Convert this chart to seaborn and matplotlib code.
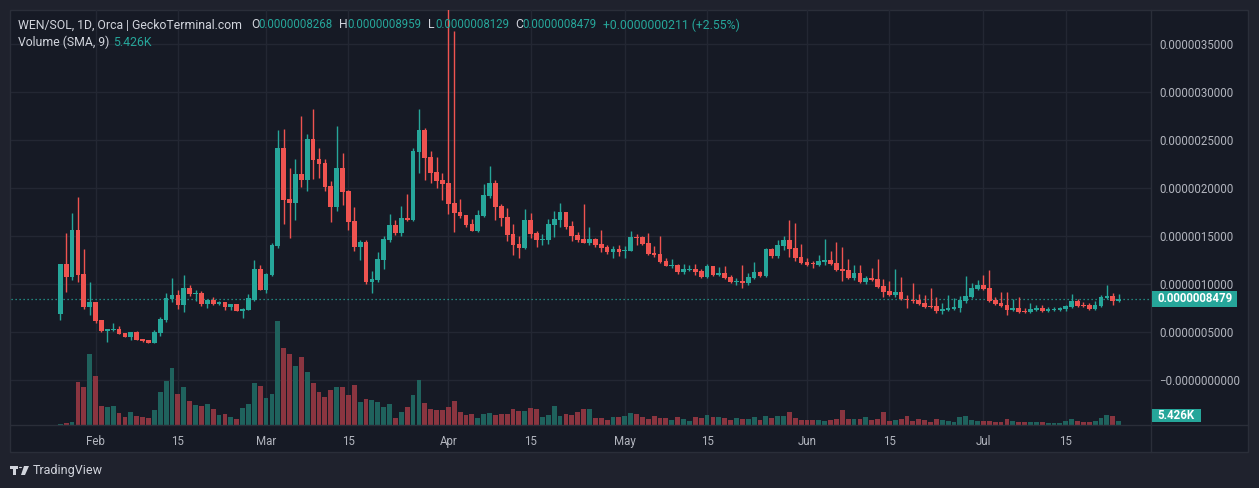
import numpy as np
import pandas as pd
import matplotlib
matplotlib.use("Agg")
import matplotlib.pyplot as plt
from matplotlib.patches import Rectangle, Polygon, Circle
from matplotlib.lines import Line2D
import seaborn as sns

# ---------------- data (prices in units of 1e-7 SOL, volume in K) ----------------
start_date = "2024-01-26"
open_e7 = [
    6.88, 12.08, 10.73, 15.63, 11.04, 7.60, 8.13, 6.25, 5.10, 5.21,
    5.31, 4.90, 4.48, 5.00, 4.27, 4.17, 3.85, 4.90, 6.25, 8.44,
    8.85, 7.81, 9.58, 8.96, 9.06, 7.92, 8.33, 7.92, 8.13, 7.60,
    7.92, 7.19, 7.29, 8.33, 11.56, 9.38, 10.94, 13.96, 24.17, 18.85,
    18.44, 21.46, 20.83, 25.10, 23.02, 22.60, 20.21, 18.02, 22.08, 19.69,
    16.56, 13.85, 14.38, 10.21, 10.42, 12.50, 14.58, 16.15, 15.31, 16.88,
    16.67, 23.75, 26.04, 23.23, 21.67, 20.83, 20.52, 18.44, 17.50, 17.19,
    16.25, 15.52, 17.08, 19.17, 20.52, 18.13, 16.98, 15.21, 14.17, 13.75,
    16.67, 15.31, 14.58, 14.58, 16.15, 16.67, 17.50, 16.04, 15.10, 14.69,
    14.27, 14.69, 14.17, 13.85, 13.33, 13.65, 13.44, 13.44, 14.90, 14.90,
    14.27, 13.23, 13.13, 12.40, 11.88, 11.98, 11.25, 11.46, 11.56, 11.35,
    10.73, 11.88, 10.94, 11.15, 10.73, 10.21, 10.31, 10.10, 10.63, 11.25,
    10.83, 13.65, 12.92, 13.96, 14.58, 13.75, 12.81, 12.29, 12.19, 11.98,
    12.29, 12.50, 12.19, 11.56, 11.46, 10.63, 11.15, 10.21, 10.63, 10.52,
    9.79, 9.27, 8.85, 9.17, 8.44, 8.33, 8.33, 8.02, 7.71, 7.71,
    7.19, 7.29, 7.40, 7.50, 8.23, 8.65, 9.48, 9.90, 9.58, 8.33,
    8.02, 7.81, 7.29, 7.50, 7.19, 7.08, 7.29, 7.50, 7.19, 7.29,
    7.29, 7.40, 7.60, 8.23, 7.81, 7.81, 7.40, 7.71, 8.54, 8.75,
    8.268,
]
high_e7 = [
    12.08, 15.31, 17.40, 19.06, 13.65, 10.21, 8.13, 6.25, 5.31, 5.94,
    5.63, 4.90, 5.00, 5.10, 4.27, 4.17, 5.21, 6.56, 9.06, 10.63,
    9.38, 10.94, 9.90, 9.38, 9.27, 8.44, 8.65, 8.23, 8.13, 7.92,
    7.92, 7.50, 8.96, 12.50, 11.98, 11.15, 14.27, 26.04, 26.15, 22.08,
    23.02, 27.50, 25.63, 28.23, 24.17, 23.02, 20.73, 26.46, 23.65, 19.79,
    18.02, 14.58, 14.58, 11.35, 13.33, 15.00, 17.29, 16.67, 18.13, 19.38,
    24.17, 28.23, 26.25, 23.85, 23.23, 21.56, 40.00, 36.35, 18.85, 17.19,
    16.77, 17.71, 20.42, 22.29, 20.83, 18.33, 17.92, 16.25, 15.00, 17.81,
    17.40, 15.52, 15.21, 16.77, 17.60, 18.44, 17.50, 16.56, 15.42, 18.33,
    15.94, 14.79, 15.63, 14.06, 13.96, 14.06, 13.96, 15.52, 15.21, 15.00,
    15.31, 13.96, 15.00, 12.71, 12.60, 12.08, 12.08, 11.98, 12.08, 11.56,
    12.08, 11.88, 11.77, 11.88, 10.94, 10.63, 11.98, 11.15, 12.29, 11.35,
    13.75, 13.75, 14.58, 15.00, 16.67, 16.35, 14.17, 12.71, 12.40, 13.02,
    14.69, 13.44, 14.38, 13.85, 12.60, 11.98, 11.98, 10.83, 11.67, 12.60,
    10.52, 10.31, 11.56, 10.73, 8.85, 10.10, 8.96, 8.85, 9.58, 8.65,
    8.02, 8.85, 8.54, 8.75, 10.83, 10.10, 10.42, 10.94, 11.46, 8.65,
    9.17, 9.17, 8.44, 8.65, 7.50, 8.02, 7.81, 7.81, 7.60, 7.60,
    7.60, 7.81, 8.96, 8.44, 8.13, 8.02, 8.23, 8.85, 9.90, 9.06,
    8.959,
]
low_e7 = [
    6.25, 9.17, 10.42, 10.21, 7.40, 6.77, 5.94, 5.00, 3.96, 5.10,
    4.79, 4.48, 4.17, 4.17, 3.96, 3.85, 3.85, 4.58, 6.04, 8.13,
    7.40, 7.08, 8.75, 8.23, 7.71, 7.50, 7.81, 7.81, 7.29, 7.29,
    7.19, 6.46, 7.29, 8.23, 9.38, 9.06, 10.83, 13.75, 16.25, 14.79,
    16.67, 20.10, 19.69, 20.94, 21.04, 19.69, 16.46, 17.60, 18.23, 15.63,
    13.44, 12.50, 10.00, 9.06, 10.21, 11.56, 14.38, 15.10, 15.00, 16.56,
    16.56, 21.56, 20.83, 20.52, 20.00, 18.75, 17.29, 15.42, 16.88, 15.94,
    15.52, 15.42, 16.98, 18.96, 16.67, 16.04, 14.48, 13.02, 12.71, 13.65,
    14.79, 13.85, 14.06, 14.17, 14.90, 15.94, 15.73, 14.48, 14.38, 14.27,
    14.06, 13.85, 13.33, 13.13, 12.71, 12.92, 12.71, 13.44, 14.06, 14.06,
    13.02, 12.81, 12.19, 11.88, 11.67, 11.04, 11.04, 11.35, 10.94, 10.63,
    10.63, 10.83, 10.83, 10.52, 10.10, 9.90, 9.58, 9.90, 10.52, 10.73,
    10.73, 12.71, 12.71, 13.54, 12.81, 12.40, 12.08, 11.88, 11.67, 11.88,
    11.98, 11.98, 11.35, 10.31, 10.52, 10.42, 10.10, 10.00, 10.31, 9.58,
    8.65, 8.75, 8.65, 8.33, 7.50, 8.02, 7.81, 7.50, 7.50, 6.98,
    6.88, 7.19, 7.29, 7.08, 8.02, 8.54, 9.38, 9.38, 8.13, 7.81,
    7.60, 6.77, 7.19, 7.00, 6.98, 7.00, 7.19, 7.10, 7.10, 7.19,
    7.19, 7.19, 7.50, 7.60, 7.60, 7.30, 7.30, 7.60, 8.44, 7.81,
    8.129,
]
close_e7 = [
    12.08, 10.73, 15.63, 10.94, 7.60, 8.13, 6.15, 5.10, 5.31, 5.31,
    4.79, 4.48, 5.00, 4.17, 4.06, 3.85, 5.00, 6.35, 8.54, 8.85,
    7.81, 9.58, 8.96, 9.06, 7.92, 8.33, 7.92, 8.13, 7.60, 7.92,
    7.19, 7.40, 8.54, 11.56, 9.38, 11.04, 14.06, 24.17, 18.75, 18.44,
    21.46, 20.83, 25.10, 22.92, 22.50, 20.10, 18.02, 22.08, 19.58, 16.46,
    13.85, 14.38, 10.21, 10.52, 12.60, 14.69, 16.15, 15.31, 16.88, 16.67,
    23.85, 26.04, 23.13, 21.56, 20.73, 20.42, 18.33, 17.40, 17.08, 16.15,
    15.52, 17.19, 19.27, 20.52, 18.02, 16.88, 15.10, 14.06, 13.75, 16.67,
    15.21, 14.58, 14.69, 16.25, 16.77, 17.50, 15.94, 15.00, 14.58, 14.27,
    14.69, 14.06, 13.75, 13.33, 13.65, 13.33, 13.54, 14.90, 14.79, 14.17,
    13.13, 13.02, 12.29, 11.88, 11.98, 11.25, 11.56, 11.56, 11.25, 10.73,
    11.88, 10.94, 11.15, 10.63, 10.21, 10.31, 10.10, 10.73, 11.25, 10.83,
    13.65, 12.92, 14.06, 14.58, 13.65, 12.71, 12.19, 11.98, 12.08, 12.40,
    12.50, 12.08, 11.46, 11.35, 10.63, 11.15, 10.21, 10.63, 10.42, 9.69,
    9.17, 8.85, 9.17, 8.44, 8.33, 8.23, 7.92, 7.60, 7.60, 7.19,
    7.40, 7.50, 7.60, 8.33, 8.75, 9.58, 9.90, 9.48, 8.23, 7.92,
    7.71, 7.29, 7.50, 7.08, 7.08, 7.40, 7.50, 7.19, 7.40, 7.40,
    7.50, 7.71, 8.23, 7.71, 7.71, 7.40, 7.81, 8.65, 8.75, 8.268,
    8.479,
]
volume_k = [
    1.4, 2.7, 4.1, 58.1, 51.3, 95.9, 66.2, 25.7, 24.3, 25.7,
    16.2, 10.8, 17.6, 12.2, 10.8, 9.5, 20.3, 44.6, 59.4, 77.0,
    41.9, 51.3, 32.4, 27.0, 25.7, 28.4, 21.6, 13.5, 14.9, 10.8,
    8.1, 23.0, 28.4, 56.7, 52.7, 36.5, 41.9, 140.4, 104.0, 95.9,
    79.7, 91.8, 71.6, 56.7, 44.6, 37.8, 47.3, 51.3, 51.3, 40.5,
    54.0, 31.1, 35.1, 33.8, 31.1, 24.3, 28.4, 9.5, 17.6, 24.3,
    40.5, 60.8, 29.7, 21.6, 20.3, 20.3, 24.3, 32.4, 17.6, 13.5,
    14.9, 9.5, 14.9, 16.2, 13.5, 14.9, 14.9, 21.6, 18.9, 18.9,
    23.0, 21.6, 10.8, 13.5, 25.7, 12.2, 14.9, 13.5, 17.6, 21.6,
    21.6, 9.5, 9.5, 6.8, 10.8, 10.8, 12.2, 16.2, 14.9, 10.8,
    8.1, 12.2, 9.5, 9.5, 6.8, 10.8, 8.1, 5.4, 10.8, 9.5,
    13.5, 10.8, 10.8, 9.5, 6.8, 9.5, 8.1, 8.1, 10.8, 6.8,
    12.2, 9.5, 12.2, 12.2, 17.6, 9.5, 6.8, 6.8, 6.8, 6.8,
    5.4, 6.8, 8.1, 20.3, 8.1, 8.1, 8.1, 10.8, 6.8, 8.1,
    17.6, 5.4, 6.8, 8.1, 12.2, 5.4, 8.1, 6.8, 4.1, 8.1,
    6.8, 5.4, 4.1, 10.8, 12.2, 6.8, 5.4, 5.4, 5.4, 4.1,
    4.1, 8.1, 5.4, 4.1, 4.1, 4.1, 4.1, 4.1, 2.7, 2.7,
    2.7, 5.4, 8.1, 5.4, 4.1, 4.1, 5.4, 9.5, 13.5, 12.2,
    5.426,
]
price_ticks_e7 = [0, 5, 10, 15, 20, 25, 30, 35]
price_tick_labels = ["\u22120.0000000000", "0.0000005000", "0.0000010000",
                     "0.0000015000", "0.0000020000", "0.0000025000",
                     "0.0000030000", "0.0000035000"]
title_text = "WEN/SOL, 1D, Orca | GeckoTerminal.com"
volume_title = "Volume (SMA, 9)"
brand_text = "TradingView"

# ---------------- styling ----------------
OUTER = "#1f222d"
BG = "#161a25"
GRID = "#232733"
BORDER = "#2a2e39"
UP = "#26a69a"
DOWN = "#ef5350"
UP_VOL = "#1f625d"
DOWN_VOL = "#8a3540"
TXT = "#b2b5be"
HEAD = "#d1d4dc"
FS = 8.3
FS_HEAD = 8.8

plt.rcParams["font.family"] = ["Roboto", "DejaVu Sans"]

scale = 1e-7
df = pd.DataFrame({
    "date": pd.date_range(start_date, periods=len(close_e7), freq="D"),
    "open": np.array(open_e7) * scale,
    "high": np.array(high_e7) * scale,
    "low": np.array(low_e7) * scale,
    "close": np.array(close_e7) * scale,
    "volume": volume_k,
})
df["idx"] = np.arange(len(df))
df["dir"] = np.where(df["close"] >= df["open"], "up", "down")

W, H = 1259, 488
fig = plt.figure(figsize=(W / 100, H / 100), dpi=100)
fig.patch.set_facecolor(OUTER)


def fx(px):
    return px / W


def fy(py):
    return 1 - py / H


# chart frame (behind the axes)
fig.patches.append(Rectangle((fx(10), fy(452)), fx(1248) - fx(10), fy(10) - fy(452),
                             transform=fig.transFigure, facecolor=BG,
                             edgecolor=BORDER, lw=1, zorder=-10))

rect = [fx(11), fy(425), (1151 - 11) / W, (425 - 10) / H]
ax = fig.add_axes(rect)
ax.set_facecolor("none")
ax_vol = fig.add_axes(rect, sharex=ax)
ax_vol.set_facecolor("none")

# volume (seaborn)
sns.barplot(data=df, x="idx", y="volume", hue="dir",
            palette={"up": UP_VOL, "down": DOWN_VOL}, native_scale=True,
            dodge=False, width=0.82, saturation=1, errorbar=None,
            legend=False, linewidth=0, ax=ax_vol)
ax_vol.set_ylim(0, 560)
ax_vol.axis("off")

# candles
cols = np.where(df["dir"] == "up", UP, DOWN)
ax.vlines(df["idx"], df["low"], df["high"], colors=cols, lw=1.0, zorder=3)
body_low = np.minimum(df["open"], df["close"])
body_h = np.maximum(np.abs(df["close"] - df["open"]), 0.1 * scale)
ax.bar(df["idx"], body_h, bottom=body_low, width=0.8, color=cols,
       linewidth=0, zorder=4)

# last price dotted line
last_close = df["close"].iloc[-1]
ax.axhline(last_close, color=UP, lw=0.9, ls=(0, (1, 2.2)), zorder=2)

# axes limits and ticks
ax.set_xlim(-8.38, 185.5)
ax.set_ylim(-4.69 * scale, 38.54 * scale)
tick_mask = (df["date"].dt.day.isin([1, 15])) & (df["date"] >= "2024-02-01")
tick_pos = df.loc[tick_mask, "idx"].tolist()
tick_lab = [d.strftime("%b") if d.day == 1 else "15" for d in df.loc[tick_mask, "date"]]
ax.set_xticks(tick_pos)
ax.set_xticklabels(tick_lab)
ax.set_yticks(np.array(price_ticks_e7) * scale)
ax.set_yticklabels(price_tick_labels)
ax.yaxis.tick_right()
ax.tick_params(axis="y", length=0, pad=5.8, labelcolor=TXT, labelsize=FS)
ax.tick_params(axis="x", length=0, pad=7.0, labelcolor=TXT, labelsize=FS)
ax.grid(True, color=GRID, lw=1)
ax.set_axisbelow(True)
for s in ax.spines.values():
    s.set_visible(False)
ax.set_xlabel("")
ax.set_ylabel("")

# separators
fig.add_artist(Line2D([fx(10), fx(1248)], [fy(425), fy(425)],
                      transform=fig.transFigure, color=BORDER, lw=1))
fig.add_artist(Line2D([fx(1151), fx(1151)], [fy(10), fy(452)],
                      transform=fig.transFigure, color=BORDER, lw=1))

# last price label
fig.patches.append(Rectangle((fx(1152), fy(307)), fx(1237) - fx(1152), fy(291) - fy(307),
                             transform=fig.transFigure, facecolor=UP, lw=0, zorder=5))
fig.text(fx(1157), fy(299), f"{last_close:.10f}", color="white", fontsize=FS,
         fontweight="bold", va="center", ha="left", zorder=6)
# volume label
last_vol = df["volume"].iloc[-1]
fig.patches.append(Rectangle((fx(1152), fy(422)), fx(1201) - fx(1152), fy(409) - fy(422),
                             transform=fig.transFigure, facecolor=UP, lw=0, zorder=5))
fig.text(fx(1157), fy(415.5), f"{last_vol:.3f}K", color="white", fontsize=FS,
         fontweight="bold", va="center", ha="left", zorder=6)

# header legend
o, h, l, c = (df[k].iloc[-1] for k in ["open", "high", "low", "close"])
prev_c = df["close"].iloc[-2]
chg = c - prev_c
pct = chg / prev_c * 100
y1, y2 = 25, 42
fig.text(fx(18), fy(y1), title_text, color=HEAD, fontsize=FS_HEAD, va="center")
for xl, lab, xv, val in [(251, "O", 258, o), (339, "H", 347, h),
                         (428, "L", 435, l), (515, "C", 522, c)]:
    fig.text(fx(xl), fy(y1), lab, color=HEAD, fontsize=FS_HEAD, va="center")
    fig.text(fx(xv), fy(y1), f"{val:.10f}", color=UP, fontsize=FS, va="center")
fig.text(fx(603), fy(y1), f"{chg:+.10f} ({pct:+.2f}%)", color=UP, fontsize=FS_HEAD, va="center")
fig.text(fx(18), fy(y2), volume_title, color=HEAD, fontsize=FS_HEAD, va="center")
fig.text(fx(113), fy(y2), f"{last_vol:.3f}K", color=UP, fontsize=FS_HEAD, va="center")

# brand logo + text
logo_col = "#d1d4dc"
fig.patches.append(Polygon([(fx(10), fy(466)), (fx(18), fy(466)), (fx(18), fy(469)),
                            (fx(16), fy(469)), (fx(16), fy(475)), (fx(13), fy(475)),
                            (fx(13), fy(469)), (fx(10), fy(469))],
                           closed=True, transform=fig.transFigure, facecolor=logo_col, lw=0))
fig.patches.append(Circle((fx(20.5), fy(467.5)), 1.6 / W, transform=fig.transFigure,
                          facecolor=logo_col, lw=0))
fig.patches.append(Polygon([(fx(24), fy(466)), (fx(29), fy(466)), (fx(25), fy(475)),
                            (fx(21), fy(475))],
                           closed=True, transform=fig.transFigure, facecolor=logo_col, lw=0))
fig.text(fx(33), fy(470.5), brand_text, color=logo_col, fontsize=9, va="center")

fig.savefig("out.png", dpi=100, facecolor=fig.get_facecolor())
